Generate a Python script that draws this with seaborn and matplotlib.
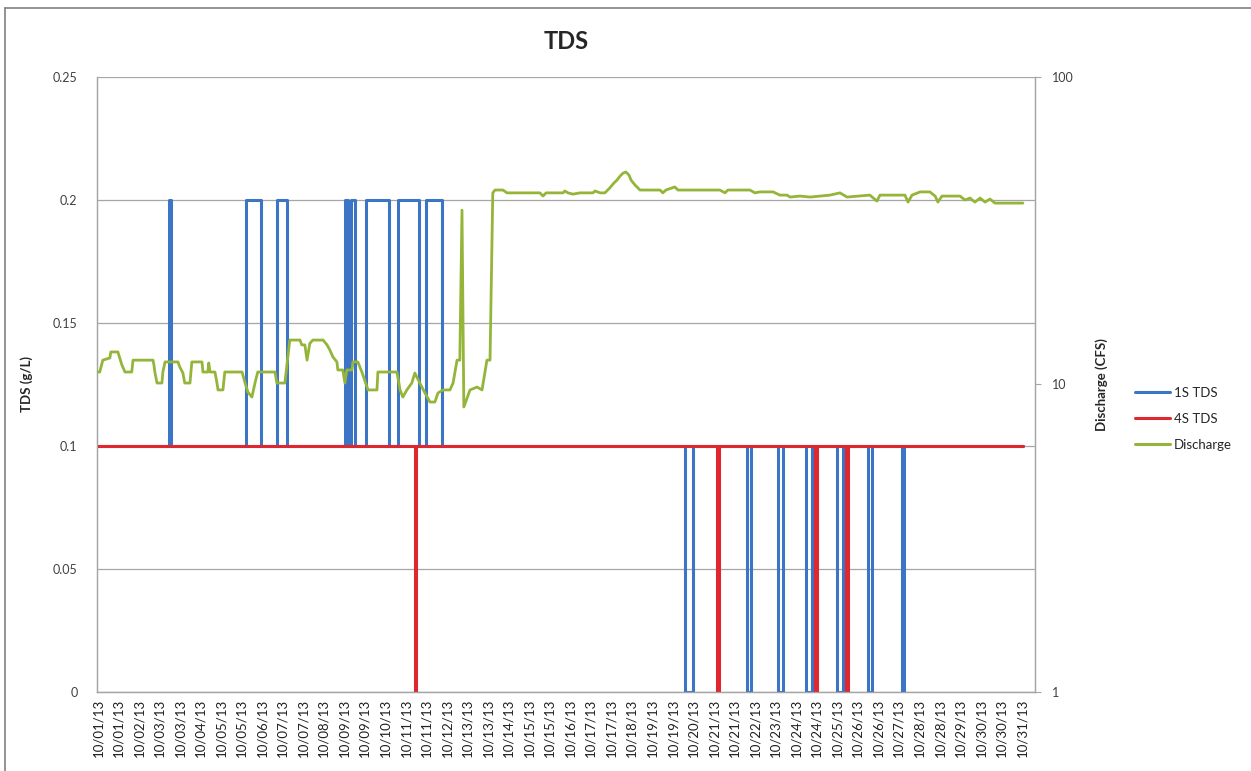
import numpy as np
import pandas as pd
import matplotlib.pyplot as plt
import seaborn as sns
from matplotlib.lines import Line2D
from matplotlib.ticker import NullLocator, FixedLocator

# x values are days since 10/01/13 00:00

# 1S TDS (g/L), step changes
tds1_day = [0, 2.31, 2.36, 4.81, 5.29, 5.81, 6.14, 8.02, 8.12, 8.22, 8.34, 8.70, 9.45,
            9.74, 10.42, 10.65, 11.17, 19.06, 19.32, 21.07, 21.20, 22.08, 22.24,
            22.99, 23.18, 23.99, 24.19, 25.00, 25.13, 26.10, 26.16, 30.03]
tds1_val = [0.1, 0.2, 0.1, 0.2, 0.1, 0.2, 0.1, 0.2, 0.1, 0.2, 0.1, 0.2, 0.1,
            0.2, 0.1, 0.2, 0.1, 0, 0.1, 0, 0.1, 0, 0.1,
            0, 0.1, 0, 0.1, 0, 0.1, 0, 0.1, 0.1]

# 4S TDS (g/L), step changes
tds4_day = [0, 10.29, 10.32, 20.10, 20.16, 23.28, 23.34, 24.29, 24.35, 30.03]
tds4_val = [0.1, 0, 0.1, 0, 0.1, 0, 0.1, 0, 0.1, 0.1]

# Discharge (CFS)
dis_day = [0.0, 0.06, 0.16, 0.39, 0.42, 0.65, 0.71, 0.78, 0.88, 1.10, 1.14, 1.79, 1.82,
           1.85, 1.92, 2.08, 2.11, 2.18, 2.60, 2.66, 2.76, 2.82, 2.99, 3.05, 3.38, 3.41,
           3.57, 3.60, 3.64, 3.80, 3.86, 3.90, 4.06, 4.12, 4.68, 4.77, 4.87, 5.00, 5.10,
           5.19, 5.75, 5.81, 6.07, 6.23, 6.56, 6.62, 6.72, 6.79, 6.88, 6.98, 7.31, 7.44,
           7.53, 7.63, 7.76, 7.79, 7.95, 8.02, 8.08, 8.25, 8.28, 8.44, 8.57, 8.77, 9.06,
           9.09, 9.71, 9.81, 9.90, 10.03, 10.19, 10.29, 10.45, 10.62, 10.78, 10.94, 11.04,
           11.20, 11.43, 11.53, 11.66, 11.75, 11.82, 11.88, 12.08, 12.31, 12.47, 12.63,
           12.73, 12.82, 12.89, 13.15, 13.28, 14.35, 14.45, 14.55, 15.10, 15.16, 15.26,
           15.42, 15.65, 16.07, 16.14, 16.30, 16.46, 16.62, 16.75, 16.85, 16.95, 17.05,
           17.14, 17.24, 17.31, 17.44, 17.60, 18.25, 18.34, 18.44, 18.73, 18.83, 20.19,
           20.36, 20.45, 21.17, 21.33, 21.49, 21.92, 22.14, 22.37, 22.47, 22.79, 23.12,
           23.77, 24.09, 24.32, 25.06, 25.29, 25.39, 26.20, 26.30, 26.43, 26.69, 27.01,
           27.18, 27.27, 27.40, 27.99, 28.15, 28.31, 28.47, 28.64, 28.80, 28.96, 29.12,
           29.94, 30.03]
dis_cfs = [10.98, 10.98, 12.0, 12.2, 12.76, 12.76, 12.2, 11.57, 10.98, 10.98, 12.0, 12.0, 11.57,
           10.98, 10.11, 10.11, 10.98, 11.84, 11.84, 11.4, 10.9, 10.11, 10.11, 11.84, 11.84, 10.98,
           10.98, 11.75, 10.98, 10.98, 10.19, 9.6, 9.6, 10.98, 10.98, 10.19, 9.45, 9.1, 10.11,
           10.98, 10.98, 10.11, 10.11, 13.95, 13.95, 13.45, 13.45, 12.0, 13.6, 13.95, 13.95, 13.45,
           12.95, 12.29, 11.84, 11.15, 11.15, 10.11, 11.15, 11.15, 11.84, 11.84, 10.98, 9.6, 9.6,
           10.98, 10.98, 9.6, 9.1, 9.6, 10.11, 10.9, 10.11, 9.38, 8.77, 8.77, 9.38,
           9.6, 9.6, 10.11, 12.0, 12.0, 36.9, 8.45, 9.6, 9.81, 9.6, 12.0,
           12.0, 42.0, 42.9, 42.9, 42.0, 42.0, 41.0, 42.0, 42.0, 42.6, 42.0,
           41.6, 42.0, 42.0, 42.6, 42.0, 42.0, 43.6, 45.2, 46.2, 47.6, 48.7,
           49.1, 48.0, 46.2, 44.5, 42.9, 42.9, 42.0, 42.9, 43.9, 42.9, 42.9,
           42.0, 42.9, 42.9, 42.0, 42.3, 42.3, 41.3, 41.3, 40.7, 41.0, 40.7,
           41.3, 42.0, 40.7, 41.3, 39.5, 41.3, 41.3, 39.2, 41.3, 42.3, 42.3,
           41.0, 39.2, 41.0, 41.0, 39.8, 40.4, 39.2, 40.4, 39.2, 40.1, 38.9,
           38.9, 38.9]

tick_labels = ["10/01/13", "10/01/13", "10/02/13", "10/03/13", "10/03/13", "10/04/13",
               "10/05/13", "10/05/13", "10/06/13", "10/07/13", "10/07/13", "10/08/13",
               "10/09/13", "10/09/13", "10/10/13", "10/11/13", "10/11/13", "10/12/13",
               "10/13/13", "10/13/13", "10/14/13", "10/15/13", "10/15/13", "10/16/13",
               "10/17/13", "10/17/13", "10/18/13", "10/19/13", "10/19/13", "10/20/13",
               "10/21/13", "10/21/13", "10/22/13", "10/23/13", "10/24/13", "10/24/13",
               "10/25/13", "10/26/13", "10/26/13", "10/27/13", "10/28/13", "10/28/13",
               "10/29/13", "10/30/13", "10/30/13", "10/31/13"]

left_ticks = [0, 0.05, 0.1, 0.15, 0.2, 0.25]
left_tick_labels = ["0", "0.05", "0.1", "0.15", "0.2", "0.25"]
right_ticks = [1, 10, 100]
right_tick_labels = ["1", "10", "100"]

BLUE = "#3C74C6"
RED = "#E0262E"
GREEN = "#94B53A"
GRID = "#A6A6A6"

sns.set_style("white")
plt.rcParams["font.family"] = ["Lato", "DejaVu Sans"]

fig = plt.figure(figsize=(12.51, 7.71), dpi=100)
ax = fig.add_axes([0.0775, 0.1025, 0.7498, 0.7976])
ax2 = ax.twinx()

sns.lineplot(x=tds1_day, y=tds1_val, ax=ax, color=BLUE, lw=2.2,
             drawstyle="steps-post", label="1S TDS", legend=False, zorder=3)
sns.lineplot(x=tds4_day, y=tds4_val, ax=ax, color=RED, lw=2.2,
             drawstyle="steps-post", label="4S TDS", legend=False, zorder=4)
sns.lineplot(x=dis_day, y=dis_cfs, ax=ax2, color=GREEN, lw=2.0,
             label="Discharge", legend=False, zorder=5)

ax.set_xlim(-0.03, 30.42)
ax.set_ylim(0, 0.25)
ax.set_yticks(left_ticks)
ax.set_yticklabels(left_tick_labels, fontsize=9, color="#404040")
ax.yaxis.grid(True, color=GRID, lw=0.9)
ax.set_axisbelow(True)

tick_pos = np.linspace(0, 30, len(tick_labels))
ax.xaxis.set_major_locator(FixedLocator(tick_pos))
ax.set_xticklabels(tick_labels, rotation=90, fontsize=9.5, color="#202020")
ax.tick_params(axis="x", length=3, color=GRID, pad=2)
ax.tick_params(axis="y", length=0, pad=14)

ax2.set_yscale("log")
ax2.set_ylim(1, 100)
ax2.yaxis.set_major_locator(FixedLocator(right_ticks))
ax2.yaxis.set_minor_locator(NullLocator())
ax2.set_yticklabels(right_tick_labels, fontsize=9, color="#404040")
ax2.tick_params(axis="y", length=4, color=GRID, pad=8)

for a in (ax, ax2):
    for side in ["left", "right", "bottom"]:
        a.spines[side].set_color(GRID)
        a.spines[side].set_linewidth(0.9)
    a.spines["top"].set_visible(False)

ax.set_ylabel("TDS (g/L)", fontsize=9.5, fontweight="bold", labelpad=14)
ax2.set_ylabel("Discharge (CFS)", fontsize=9.5, fontweight="bold", labelpad=16)
ax.set_title("TDS", fontsize=17, fontweight="bold", pad=20)

handles = [Line2D([], [], color=BLUE, lw=2.2), Line2D([], [], color=RED, lw=2.2),
           Line2D([], [], color=GREEN, lw=2.2)]
fig.legend(handles, ["1S TDS", "4S TDS", "Discharge"], loc="center left",
           bbox_to_anchor=(0.898, 0.457), frameon=False, fontsize=9.5,
           handlelength=2.6, handletextpad=0.3, labelspacing=1.05)

# chart area border
fig.add_artist(Line2D([0.004, 1.0], [0.9896, 0.9896], transform=fig.transFigure,
                      color="#808080", lw=1.2))
fig.add_artist(Line2D([0.004, 0.004], [0.0, 0.9896], transform=fig.transFigure,
                      color="#808080", lw=1.2))

fig.savefig("out.png", dpi=100)
